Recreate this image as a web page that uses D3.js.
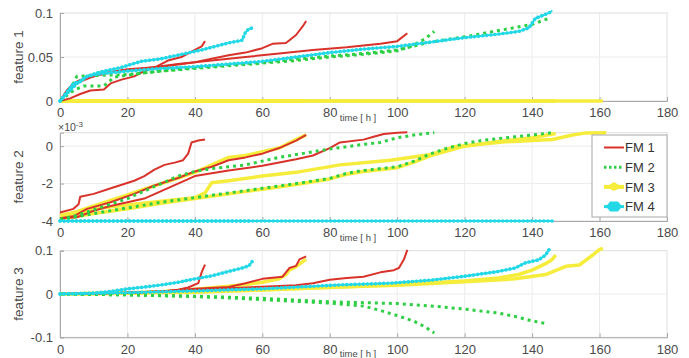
<!DOCTYPE html>
<html>
<head>
<meta charset="utf-8">
<script src="https://cdn.jsdelivr.net/npm/d3@7"></script>
<style>
  html, body { margin: 0; padding: 0; background: #fff; }
  svg { display: block; font-family: "Liberation Sans", Arial, Helvetica, sans-serif; }
</style>
</head>
<body>
<svg id="chart" width="689" height="358"></svg>
<script>
// Operating hours on the shared x axis
const hourTicks = [0, 20, 40, 60, 80, 100, 120, 140, 160, 180];
const hourDomain = [0, 180];

// y ticks for each feature
const feature1Ticks = [0, 0.05, 0.1];
const feature2Ticks = [-4, -2, 0];          // in units of 10^-3
const feature3Ticks = [-0.1, 0, 0.1];

const seriesNames = ["FM 1", "FM 2", "FM 3", "FM 4"];

// ---- feature 1: runs as [hour, value] ----
const f1FM1 = [
  [[0,0],[3,0.003],[6,0.008],[9,0.012],[13,0.013],[15,0.02],[18,0.024],[22,0.028],[25,0.034],[28,0.038],[32,0.046],[36,0.05],[40,0.058],[42,0.062],[43,0.068]],
  [[0,0],[2,0.012],[4,0.02],[6,0.024],[10,0.028],[15,0.033],[20,0.036],[30,0.039],[40,0.044],[45,0.048],[50,0.052],[55,0.055],[60,0.06],[63,0.065],[67,0.066],[70,0.075],[72,0.085],[73,0.091]],
  [[0,0],[3,0.015],[6,0.022],[10,0.028],[15,0.033],[25,0.037],[35,0.042],[45,0.046],[55,0.05],[65,0.054],[75,0.058],[85,0.061],[95,0.065],[100,0.068],[103,0.077]]
];
const f1FM2 = [
  [[0,0],[3,0.012],[5,0.028],[10,0.029],[20,0.03],[30,0.034],[40,0.037],[50,0.04],[60,0.043],[70,0.046],[80,0.05],[90,0.053],[100,0.057],[104,0.062],[108,0.07],[111,0.079]],
  [[0,0],[4,0.012],[7,0.017],[13,0.017],[16,0.027],[25,0.032],[40,0.038],[60,0.044],[80,0.051],[90,0.054],[100,0.058],[110,0.067],[120,0.073],[130,0.08],[140,0.087],[145,0.094]]
];
const f1FM3 = [
  [[0,0],[73,0]],
  [[0,0],[147,0]],
  [[0,0],[161,0]]
];
const f1FM4 = [
  [[0,0],[2,0.01],[4,0.02],[6,0.022],[8,0.028],[12,0.033],[18,0.038],[24,0.045],[30,0.048],[36,0.053],[42,0.058],[46,0.062],[50,0.066],[54,0.069],[55,0.078],[56,0.082],[57,0.083]],
  [[0,0],[3,0.012],[5,0.02],[8,0.028],[12,0.031],[20,0.034],[30,0.037],[40,0.039],[50,0.042],[60,0.045],[70,0.05],[80,0.055],[90,0.059],[100,0.062],[110,0.067],[120,0.072],[130,0.076],[136,0.079],[139,0.083],[141,0.094],[143,0.097],[145,0.1],[146,0.103]]
];

// ---- feature 2 (x 10^-3) ----
const f2FM1 = [
  [[0,-3.55],[4,-3.35],[5.5,-3.1],[6,-2.7],[10,-2.55],[16,-2.2],[22,-1.85],[25,-1.6],[28,-1.25],[31,-1.0],[34,-0.88],[36.5,-0.75],[38,-0.4],[39,0.2],[41,0.3],[43,0.36]],
  [[0,-3.85],[4,-3.75],[8,-3.35],[15,-3.0],[22,-2.55],[28,-2.1],[35,-1.7],[40,-1.35],[45,-1.1],[50,-0.75],[55,-0.6],[60,-0.4],[65,-0.1],[70,0.3],[73,0.6]],
  [[0,-3.85],[5,-3.8],[10,-3.45],[15,-3.2],[20,-3.0],[25,-2.8],[30,-2.4],[35,-2.0],[40,-1.6],[45,-1.45],[50,-1.3],[60,-1.05],[70,-0.7],[75,-0.5],[80,-0.1],[83,0.2],[90,0.35],[93,0.5],[96,0.65],[100,0.72],[103,0.74]]
];
const f2FM2 = [
  [[0,-3.9],[5,-3.7],[10,-3.4],[15,-3.1],[20,-2.8],[25,-2.4],[30,-2.0],[35,-1.6],[40,-1.35],[45,-1.2],[50,-1.1],[55,-1.0],[60,-0.8],[65,-0.6],[70,-0.45],[75,-0.3],[80,-0.15],[85,-0.03],[90,0.1],[95,0.2],[100,0.45],[105,0.6],[111,0.72]],
  [[0,-3.95],[10,-3.6],[20,-3.3],[30,-3.0],[40,-2.75],[50,-2.5],[60,-2.25],[70,-2.0],[80,-1.72],[85,-1.45],[90,-1.3],[100,-1.1],[105,-0.8],[110,-0.4],[115,-0.1],[120,0.14],[125,0.3],[130,0.41],[135,0.5],[140,0.6],[146,0.72]]
];
const f2FM3 = [
  [[0,-3.7],[5,-3.5],[10,-3.2],[15,-2.9],[20,-2.6],[25,-2.3],[30,-2.0],[35,-1.7],[40,-1.4],[45,-1.0],[50,-0.6],[55,-0.5],[60,-0.3],[65,-0.1],[70,0.35],[73,0.6]],
  [[0,-3.8],[5,-3.6],[10,-3.35],[20,-3.15],[30,-2.95],[40,-2.75],[43,-2.5],[45,-1.95],[50,-1.85],[60,-1.6],[70,-1.4],[83,-1.0],[98,-0.75],[110,-0.45],[117,-0.03],[132,0.23],[146,0.36],[152,0.6],[156,0.71],[162,0.72]],
  [[0,-3.9],[10,-3.6],[20,-3.35],[30,-3.05],[40,-2.8],[50,-2.55],[60,-2.3],[70,-2.05],[80,-1.75],[85,-1.5],[90,-1.35],[100,-1.15],[105,-0.85],[110,-0.5],[115,-0.25],[120,0.0],[130,0.25],[140,0.45],[147,0.68]]
];
const f2FM4 = [
  [[0,-4],[57,-4]],
  [[0,-4],[146,-4]]
];

// ---- feature 3 ----
const f3FM1 = [
  [[0,0],[10,0.001],[20,0.003],[30,0.005],[35,0.01],[38,0.015],[41,0.025],[42,0.05],[43,0.068]],
  [[0,0],[10,0.001],[20,0.003],[30,0.006],[40,0.012],[50,0.016],[55,0.025],[60,0.035],[66,0.04],[68,0.06],[70,0.065],[71,0.08],[73,0.087]],
  [[0,0],[20,0.003],[40,0.01],[50,0.013],[60,0.017],[70,0.02],[75,0.025],[80,0.033],[85,0.037],[90,0.04],[95,0.05],[99,0.055],[100.5,0.06],[102,0.08],[103,0.102]]
];
const f3FM2 = [
  [[0,0],[10,-0.001],[20,-0.002],[30,-0.004],[40,-0.006],[50,-0.009],[60,-0.013],[70,-0.017],[80,-0.021],[90,-0.028],[95,-0.038],[100,-0.05],[105,-0.063],[108,-0.075],[111,-0.09]],
  [[0,0],[20,-0.002],[40,-0.005],[60,-0.01],[80,-0.018],[90,-0.02],[100,-0.022],[112,-0.029],[120,-0.035],[130,-0.044],[135,-0.052],[140,-0.062],[144,-0.068]]
];
const f3FM3 = [
  [[0,0],[20,0.002],[30,0.005],[40,0.011],[50,0.018],[55,0.022],[60,0.027],[65,0.035],[67,0.045],[68,0.055],[70,0.063],[72,0.075],[73,0.08]],
  [[0,0],[40,0.006],[60,0.01],[83,0.016],[100,0.022],[120,0.03],[130,0.037],[136,0.045],[140,0.055],[144,0.07],[146,0.08],[147,0.09]],
  [[0,0],[40,0.004],[60,0.009],[83,0.016],[100,0.02],[120,0.028],[135,0.035],[144,0.045],[150,0.064],[154,0.067],[158,0.09],[160,0.103],[161,0.105]]
];
const f3FM4 = [
  [[0,0],[10,0.002],[15,0.006],[20,0.012],[25,0.016],[30,0.021],[35,0.027],[40,0.035],[45,0.042],[50,0.052],[54,0.06],[56,0.065],[57,0.075]],
  [[0,0],[20,0.003],[40,0.007],[60,0.012],[83,0.021],[98,0.025],[110,0.032],[120,0.041],[130,0.052],[135,0.06],[138,0.072],[142,0.079],[144,0.09],[145,0.102]]
];

// ---- styling per failure mode ----
const styles = {
  "FM 1": { color: "#d8322a", width: 2 },
  "FM 2": { color: "#2fcf45", width: 3, dash: "3 4" },
  "FM 3": { color: "#f6ec3c", width: 3.5 },
  "FM 4": { color: "#22d8e6", width: 1.8, dots: true }
};

const svg = d3.select("#chart");
const left = 60, right = 667;
const x = d3.scaleLinear().domain(hourDomain).range([left, right]);

const panels = [
  { label: "feature 1", top: 13, bottom: 101, domain: [0, 0.1], ticks: feature1Ticks,
    fmt: d => d === 0 ? "0" : String(d), runs: [f1FM1, f1FM2, f1FM3, f1FM4] },
  { label: "feature 2", top: 132.7, bottom: 221, domain: [-4, 0.72], ticks: feature2Ticks,
    fmt: d => String(d), runs: [f2FM1, f2FM2, f2FM3, f2FM4], exponent: true },
  { label: "feature 3", top: 250.7, bottom: 337.3, domain: [-0.1, 0.1], ticks: feature3Ticks,
    fmt: d => d === 0 ? "0" : String(d), runs: [f3FM1, f3FM2, f3FM3, f3FM4] }
];

// drawing order: yellow below, cyan on top
const drawOrder = [2, 0, 1, 3];

panels.forEach(p => {
  const y = d3.scaleLinear().domain(p.domain).range([p.bottom, p.top]);
  const g = svg.append("g");

  // grid
  g.selectAll("line.vgrid").data(hourTicks.slice(1, -1)).join("line")
    .attr("x1", d => x(d)).attr("x2", d => x(d))
    .attr("y1", p.top).attr("y2", p.bottom)
    .attr("stroke", "#ececec").attr("stroke-width", 1);
  g.selectAll("line.hgrid").data(p.ticks.filter(t => y(t) > p.top + 1 && y(t) < p.bottom - 1)).join("line")
    .attr("x1", left).attr("x2", right)
    .attr("y1", d => y(d)).attr("y2", d => y(d))
    .attr("stroke", "#ececec").attr("stroke-width", 1);

  // box (light top / right)
  g.append("rect").attr("x", left).attr("y", p.top)
    .attr("width", right - left).attr("height", p.bottom - p.top)
    .attr("fill", "none").attr("stroke", "#dedede").attr("stroke-width", 1);

  // axes
  const xAxis = d3.axisBottom(x).tickValues(hourTicks).tickSize(-4).tickPadding(6).tickFormat(d3.format("d"));
  const ax = g.append("g").attr("transform", `translate(0,${p.bottom})`).call(xAxis);
  const yAxis = d3.axisLeft(y).tickValues(p.ticks).tickSize(-4).tickPadding(7).tickFormat(p.fmt);
  const ay = g.append("g").attr("transform", `translate(${left},0)`).call(yAxis);
  [ax, ay].forEach(a => {
    a.select(".domain").attr("stroke", "#a8a8a8");
    a.selectAll(".tick line").attr("stroke", "#a8a8a8");
    a.selectAll(".tick text").attr("fill", "#4a4a4a").attr("font-size", 13)
      .attr("font-family", "'Liberation Sans', Arial, sans-serif");
  });
  ax.selectAll(".tick text").attr("dy", "0.8em");

  // series
  const line = d3.line().x(d => x(d[0])).y(d => y(d[1]));
  drawOrder.forEach(k => {
    const st = styles[seriesNames[k]];
    p.runs[k].forEach(run => {
      const path = g.append("path").datum(run).attr("d", line)
        .attr("fill", "none").attr("stroke", st.color)
        .attr("stroke-width", st.width).attr("stroke-linejoin", "round");
      if (st.dash) path.attr("stroke-dasharray", st.dash);
      if (st.dots) {
        g.append("path").datum(run).attr("d", line)
          .attr("fill", "none").attr("stroke", st.color)
          .attr("stroke-width", 3.6).attr("stroke-linecap", "round")
          .attr("stroke-dasharray", "0.1 4");
      }
    });
  });

  // y label
  svg.append("text")
    .attr("transform", `translate(23,${(p.top + p.bottom) / 2}) rotate(-90)`)
    .attr("text-anchor", "middle").attr("font-size", 13.5).attr("fill", "#4a4a4a")
    .text(p.label);

  // x label
  svg.append("text")
    .attr("x", 358).attr("y", p.bottom + 20)
    .attr("text-anchor", "middle").attr("font-size", 9.5).attr("fill", "#4a4a4a")
    .text("time [ h ]");

  if (p.exponent) {
    const t = svg.append("text").attr("x", 58).attr("y", p.top - 2)
      .attr("font-size", 10.5).attr("fill", "#4a4a4a").text("×10");
    t.append("tspan").attr("font-size", 8).attr("dy", -4).text("-3");
  }
});

// legend
const lg = svg.append("g").attr("transform", "translate(592,135)");
lg.append("rect").attr("width", 75).attr("height", 82)
  .attr("fill", "#fff").attr("stroke", "#a8a8a8").attr("stroke-width", 1);
seriesNames.forEach((name, i) => {
  const st = styles[name];
  const cy = 12.5 + i * 19.7;
  const row = lg.append("g").attr("transform", `translate(0,${cy})`);
  const seg = row.append("line").attr("x1", 12).attr("x2", 32).attr("y1", 0).attr("y2", 0)
    .attr("stroke", st.color).attr("stroke-width", name === "FM 3" ? 4 : (name === "FM 4" ? 3 : st.width));
  if (st.dash) seg.attr("stroke-dasharray", "2.5 2.5");
  if (name === "FM 3") {
    row.append("path").attr("d", "M14,0 L22,-5 L30,0 L22,4 Z").attr("fill", st.color);
  }
  if (name === "FM 4") {
    row.append("path").attr("d", "M14,0 L18,-5 L26,-5 L30,0 L26,5 L18,5 Z").attr("fill", st.color);
  }
  row.append("text").attr("x", 33).attr("y", 0).attr("dy", "0.36em")
    .attr("font-size", 13).attr("fill", "#333").text(name);
});
</script>
</body>
</html>
